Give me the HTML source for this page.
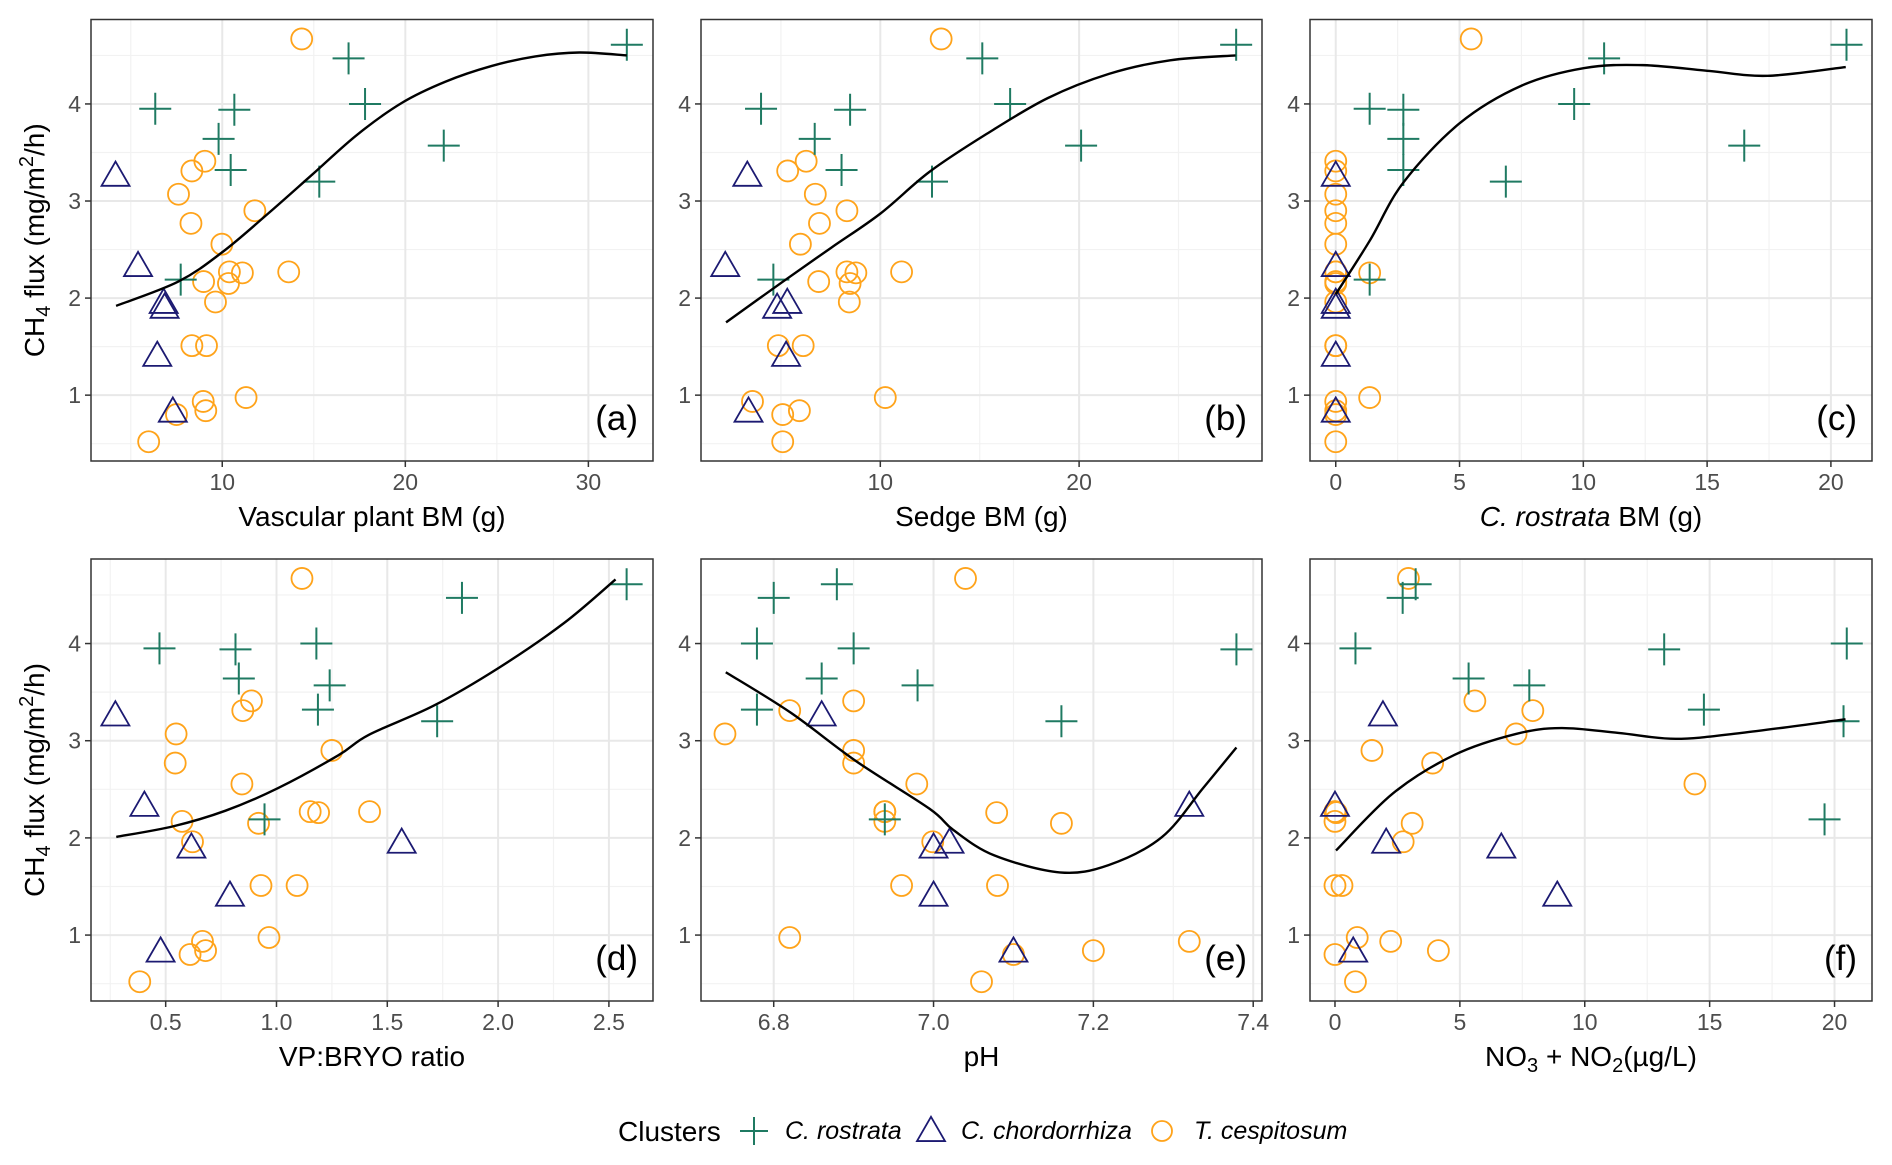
<!DOCTYPE html>
<html><head><meta charset="utf-8"><style>
html,body{margin:0;padding:0;background:#fff}
svg{display:block}
text{font-family:"Liberation Sans",Arial,sans-serif}
</style></head><body>
<svg id="chart" width="1892" height="1165" viewBox="0 0 1892 1165" xmlns="http://www.w3.org/2000/svg">
<rect width="1892" height="1165" fill="#fff"/>
</svg>
<script>
// shared y values (CH4 flux)
const rostrataY = [4.61,4.47,4.00,3.95,3.94,3.64,3.57,3.32,3.20,2.19];
const chordY = [3.24,2.31,1.93,1.88,1.385,0.81];
const cespY = [4.67,3.41,3.31,3.07,2.90,2.77,2.555,2.27,2.26,2.27,2.17,2.15,1.96,1.51,1.51,0.975,0.935,0.84,0.80,0.52];
// panel a: vascular plant BM
const aRostX = [32.1,16.9,17.8,6.34,10.66,9.8,22.1,10.46,15.3,7.73];
const aChordX = [4.17,5.4,6.8,6.85,6.45,7.3];
const aCespX = [14.34,9.05,8.34,7.61,11.78,8.29,9.98,10.39,11.1,13.63,8.98,10.34,9.63,8.34,9.14,11.3,8.96,9.1,7.5,5.98];
const aFitX = [4.2,7.6,10.05,12.5,14.9,17.35,19.8,22.2,24.7,27.1,29.5,32.1];
const aFitY = [1.92,2.17,2.48,2.87,3.27,3.68,4.01,4.23,4.39,4.49,4.53,4.50];
// panel b: sedge BM
const bRostX = [27.9,15.13,16.53,4.0,8.48,6.7,20.1,8.05,12.6,4.62];
const bChordX = [3.31,2.2,5.32,4.81,5.26,3.37];
const bCespX = [13.06,6.27,5.34,6.73,8.32,6.94,5.98,8.32,8.77,11.07,6.9,8.48,8.44,4.87,6.12,10.25,3.57,5.93,5.09,5.09];
const bFitX = [2.24,5.07,7.54,10,12.47,15.34,18.42,21.5,24.58,27.87];
const bFitY = [1.75,2.165,2.52,2.87,3.30,3.69,4.06,4.31,4.45,4.50];
// panel c: C. rostrata BM
const cRostX = [20.63,10.84,9.63,1.37,2.73,2.73,16.5,2.73,6.87,1.37];
const cChordX = [0,0,0,0,0,0];
const cCespX = [5.47,0,0,0,0,0,0,0,1.37,0,0,0,0,0,0,1.37,0,0,0,0];
const cFitX = [0,1.37,2.73,5.0,7.52,10.04,12.4,15.08,17.45,20.6];
const cFitY = [2.04,2.59,3.19,3.80,4.19,4.37,4.40,4.34,4.29,4.38];
// panel d: VP:BRYO ratio
const dRostX = [2.58,1.837,1.18,0.472,0.815,0.83,1.24,1.187,1.725,0.946];
const dChordX = [0.273,0.404,1.565,0.616,0.79,0.477];
const dCespX = [1.115,0.887,0.848,0.547,1.25,0.543,0.844,1.152,1.19,1.42,0.574,0.919,0.621,0.93,1.093,0.966,0.666,0.68,0.61,0.383];
const dFitX = [0.277,0.535,0.77,1.005,1.279,1.416,1.709,2.003,2.297,2.53];
const dFitY = [2.01,2.12,2.28,2.51,2.85,3.06,3.36,3.75,4.21,4.66];
// panel e: pH
const eRostX = [6.879,6.80,6.779,6.90,7.379,6.86,6.98,6.779,7.16,6.939];
const eChordX = [6.86,7.32,7.02,7.0,7.0,7.1];
const eCespX = [7.04,6.90,6.82,6.739,6.90,6.90,6.979,6.939,7.079,6.939,6.939,7.16,6.999,6.96,7.08,6.82,7.32,7.20,7.10,7.06];
const eFitX = [6.74,6.821,6.903,6.995,7.025,7.076,7.158,7.219,7.286,7.337,7.379];
const eFitY = [3.705,3.29,2.79,2.30,2.08,1.82,1.645,1.72,2.01,2.51,2.93];
// panel f: NO3+NO2
const fRostX = [3.23,2.71,20.49,0.82,13.18,5.35,7.78,14.77,20.36,19.6];
const fChordX = [1.92,0,2.05,6.66,8.9,0.73];
const fCespX = [2.94,5.6,7.92,7.25,1.48,3.91,14.41,0,0.05,0,0,3.09,2.73,0,0.28,0.89,2.23,4.14,0,0.82];
const fFitX = [0.04,2.33,4.79,7.25,9.06,11.35,13.64,16.27,20.44];
const fFitY = [1.87,2.46,2.855,3.07,3.13,3.08,3.02,3.08,3.22];
// tick labels
const xTicksA = [10,20,30], xTicksB = [10,20], xTicksC = [0,5,10,15,20];
const xTicksD = ["0.5","1.0","1.5","2.0","2.5"], xTicksE = ["6.8","7.0","7.2","7.4"], xTicksF = [0,5,10,15,20];
const yTicks = [1,2,3,4];

const NS = "http://www.w3.org/2000/svg";
const svg = document.getElementById('chart');
function mk(tag, attrs, parent){const e=document.createElementNS(NS,tag);for(const k in attrs)e.setAttribute(k,attrs[k]);(parent||svg).appendChild(e);return e;}
const COL_R="#1f7a62", COL_C="#1c1a72", COL_T="#ffa31a";

const panels = [
 {id:'a',L:91,R:653,T:19.5,B:461,x0:2.83,x1:33.53,ticks:xTicksA,minor:[5,15,25],rx:aRostX,cx:aChordX,tx:aCespX,fx:aFitX,fy:aFitY,title:'Vascular plant BM (g)',ylab:true},
 {id:'b',L:701,R:1262,T:19.5,B:461,x0:0.98,x1:29.2,ticks:xTicksB,minor:[5,15,25],rx:bRostX,cx:bChordX,tx:bCespX,fx:bFitX,fy:bFitY,title:'Sedge BM (g)'},
 {id:'c',L:1310,R:1872,T:19.5,B:461,x0:-1.04,x1:21.66,ticks:xTicksC,minor:[2.5,7.5,12.5,17.5],rx:cRostX,cx:cChordX,tx:cCespX,fx:cFitX,fy:cFitY,title:'crost'},
 {id:'d',L:91,R:653,T:559,B:1001,x0:0.163,x1:2.699,ticks:xTicksD,minor:[0.25,0.75,1.25,1.75,2.25],rx:dRostX,cx:dChordX,tx:dCespX,fx:dFitX,fy:dFitY,title:'VP:BRYO ratio',ylab:true},
 {id:'e',L:701,R:1262,T:559,B:1001,x0:6.709,x1:7.411,ticks:xTicksE,minor:[6.9,7.1,7.3],rx:eRostX,cx:eChordX,tx:eCespX,fx:eFitX,fy:eFitY,title:'pH'},
 {id:'f',L:1310,R:1872,T:559,B:1001,x0:-1.0,x1:21.5,ticks:xTicksF,minor:[2.5,7.5,12.5,17.5],rx:fRostX,cx:fChordX,tx:fCespX,fx:fFitX,fy:fFitY,title:'no'}
];
const Y0=0.3216, Y1=4.87; // y domain (same for all)

function crossAt(g,x,y,s){const p=mk('path',{d:`M${x-s},${y}H${x+s}M${x},${y-s}V${y+s}`,stroke:COL_R,'stroke-width':2,fill:'none'},g);return p;}
function triAt(g,x,y,s){const h=s*1.732;const p=mk('path',{d:`M${x},${y-h*2/3}L${x+s},${y+h/3}L${x-s},${y+h/3}Z`,stroke:COL_C,'stroke-width':1.8,fill:'none'},g);return p;}
function circAt(g,x,y,r){return mk('circle',{cx:x,cy:y,r:r,stroke:COL_T,'stroke-width':1.8,fill:'none'},g);}

function smoothPath(pts){let d=`M${pts[0][0]},${pts[0][1]}`;for(let i=0;i<pts.length-1;i++){const p0=pts[Math.max(i-1,0)],p1=pts[i],p2=pts[i+1],p3=pts[Math.min(i+2,pts.length-1)];const c1x=p1[0]+(p2[0]-p0[0])/6,c1y=p1[1]+(p2[1]-p0[1])/6,c2x=p2[0]-(p3[0]-p1[0])/6,c2y=p2[1]-(p3[1]-p1[1])/6;d+=`C${c1x},${c1y} ${c2x},${c2y} ${p2[0]},${p2[1]}`;}return d;}

panels.forEach(P=>{
  const g=mk('g',{});
  
  
  const xs=v=>P.L+(parseFloat(v)-P.x0)/(P.x1-P.x0)*(P.R-P.L);
  const ys=v=>P.B-(v-Y0)/(Y1-Y0)*(P.B-P.T);
  // minor grid
  [0.5,1.5,2.5,3.5,4.5].forEach(v=>{mk('line',{x1:P.L,x2:P.R,y1:ys(v),y2:ys(v),stroke:'#f2f2f2','stroke-width':1.2},g);});
  P.minor.forEach(v=>{const x=xs(v);if(x>P.L&&x<P.R)mk('line',{x1:x,x2:x,y1:P.T,y2:P.B,stroke:'#f2f2f2','stroke-width':1.2},g);});
  // major grid
  yTicks.forEach(v=>{mk('line',{x1:P.L,x2:P.R,y1:ys(v),y2:ys(v),stroke:'#e8e8e8','stroke-width':2},g);});
  P.ticks.forEach(v=>{const x=xs(v);mk('line',{x1:x,x2:x,y1:P.T,y2:P.B,stroke:'#e8e8e8','stroke-width':2},g);});
  // points
  const pg=mk('g',{},g);
  
  
  P.tx.forEach((v,i)=>{const e=circAt(pg,xs(v),ys(cespY[i]),10.5);
    
    });
  P.cx.forEach((v,i)=>{const e=triAt(pg,xs(v),ys(chordY[i]),14);
    
    });
  P.rx.forEach((v,i)=>{const e=crossAt(pg,xs(v),ys(rostrataY[i]),16);
    
    });
  // fit curve
  const pts=P.fx.map((v,i)=>[xs(v),ys(P.fy[i])]);
  const fit=mk('path',{d:smoothPath(pts),stroke:'#000','stroke-width':2.4,fill:'none'},g);
  
  
  // border
  const br=mk('rect',{x:P.L,y:P.T,width:P.R-P.L,height:P.B-P.T,fill:'none',stroke:'#333','stroke-width':1.5},g);
  
  
  // ticks
  P.ticks.forEach(v=>{const x=xs(v);mk('line',{x1:x,x2:x,y1:P.B,y2:P.B+6,stroke:'#333','stroke-width':1.5},g);
    const t=mk('text',{x:x,y:P.B+29,'text-anchor':'middle','font-size':23,fill:'#4d4d4d'},g);t.textContent=v;
    
    });
  yTicks.forEach(v=>{const y=ys(v);mk('line',{x1:P.L-6,x2:P.L,y1:y,y2:y,stroke:'#333','stroke-width':1.5},g);
    const t=mk('text',{x:P.L-10,y:y+8,'text-anchor':'end','font-size':23,fill:'#4d4d4d'},g);t.textContent=v;
    
    });
  // panel label
  const lb=mk('text',{x:P.R-15,y:P.B-31,'text-anchor':'end','font-size':35,fill:'#000'},g);lb.textContent='('+P.id+')';
  
  
  // x title
  const tt=mk('text',{x:(P.L+P.R)/2,y:P.B+65,'text-anchor':'middle','font-size':28,fill:'#000'},g);
  if(P.title==='crost'){tt.innerHTML='<tspan font-style="italic">C. rostrata</tspan> BM (g)';}
  else if(P.title==='no'){tt.innerHTML='NO<tspan font-size="20" dy="6">3</tspan><tspan dy="-6"> + NO</tspan><tspan font-size="20" dy="6">2</tspan><tspan dy="-6">(µg/L)</tspan>';}
  else tt.textContent=P.title;
  
  
  if(P.ylab){
    const cy=(P.T+P.B)/2;
    const yt=mk('text',{x:0,y:0,transform:`translate(44,${cy}) rotate(-90)`,'text-anchor':'middle','font-size':28,fill:'#000'},g);
    yt.innerHTML='CH<tspan font-size="20" dy="6">4</tspan><tspan dy="-6"> flux (mg/m</tspan><tspan font-size="20" dy="-11">2</tspan><tspan dy="11">/h)</tspan>';
    
    
  }
});
// legend
const lg=mk('g',{});


const lt=mk('text',{x:618,y:1141,'font-size':28,fill:'#000'},lg);lt.textContent='Clusters';


const e1=crossAt(lg,754,1131,14);


const t1=mk('text',{x:785,y:1139,'font-size':25,'font-style':'italic',fill:'#000'},lg);t1.textContent='C. rostrata';


const e2=triAt(lg,931,1133,14);


const t2=mk('text',{x:961,y:1139,'font-size':25,'font-style':'italic',fill:'#000'},lg);t2.textContent='C. chordorrhiza';


const e3=circAt(lg,1162,1131,10);


const t3=mk('text',{x:1194,y:1139,'font-size':25,'font-style':'italic',fill:'#000'},lg);t3.textContent='T. cespitosum';


</script>
</body></html>
